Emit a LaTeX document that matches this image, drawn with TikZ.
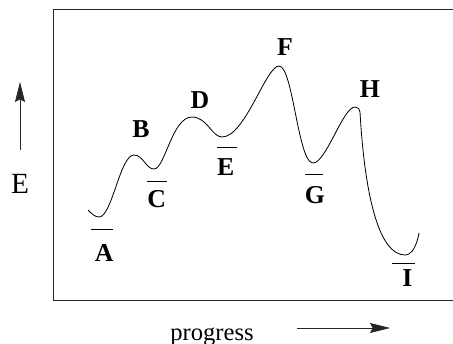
\documentclass[tikz,border=0pt]{standalone}
\usepackage{fontspec}
\setmainfont{Liberation Serif}
\usetikzlibrary{arrows.meta}

\begin{document}
\begin{tikzpicture}[x=0.03cm, y=-0.03cm,
    lab/.style={anchor=base, inner sep=0pt, font=\fontsize{22}{26}\selectfont\bfseries},
    bar/.style={line width=0.7pt},
    axis/.style={line width=0.6pt, black!85, -{Stealth[length=0.6cm, width=0.3cm, inset=0.08cm]}}]
    \useasboundingbox (0,0) rectangle (453,344);

    % Frame (open at the right edge)
    \draw[line width=0.8pt, black!85] (453,9) -- (53,9) -- (53,300) -- (453,300);

    % Energy curve
    \draw[line width=0.7pt] (88,210)
        .. controls (92,214) and (95,217) .. (99,217)
        .. controls (112,217) and (120,155) .. (134,155)
        .. controls (143,155) and (146,169) .. (154,169)
        .. controls (165,169) and (172,117) .. (192,117)
        .. controls (207,117) and (212,137) .. (222,137)
        .. controls (245,137) and (266,66) .. (279,66)
        .. controls (293,66) and (298,163) .. (313,163)
        .. controls (326,163) and (343,107) .. (355,107)
        .. controls (358,107) and (360,109) .. (360,112)
        .. controls (365,200) and (380,255) .. (405,255)
        .. controls (412,255) and (417,245) .. (419,233);

    % Maxima
    \node[lab] (B) at (141,138) {B};
    \node[lab] (D) at (200,109) {D};
    \node[lab] (F) at (285,55.7) {F};
    \node[lab] (H) at (370,97.3) {H};

    % Minima
    \node[lab] (A) at (104.3,261.7) {A};
    \node[lab] (C) at (156.7,207.7) {C};
    \node[lab] (E) at (225.7,175.7) {E};
    \node[lab] (G) at (315,203.3) {G};
    \node[lab] (I) at (407.3,286.7) {I};

    % Level bars
    \draw[bar] (91,229) -- (113,229);
    \draw[bar] (147,181) -- (167,181);
    \draw[bar] (217,147) -- (237,147);
    \draw[bar] (305,174) -- (323,174);
    \draw[bar] (392,263) -- (415,263);

    % Axis labels
    \node[anchor=base, inner sep=0pt, font=\fontsize{25}{30}\selectfont] (elab) at (20,194) {E};
    \coordinate (ebot) at (20,150);
    \coordinate (etop) at (20,82);
    \draw[axis] (ebot) -- (etop);

    \node[anchor=base, inner sep=0pt, font=\fontsize{21}{25}\selectfont] (prog) at (212,340) {progress};
    \coordinate (pleft) at (297,328);
    \coordinate (pright) at (390,328);
    \draw[axis] (pleft) -- (pright);
\end{tikzpicture}
\end{document}
